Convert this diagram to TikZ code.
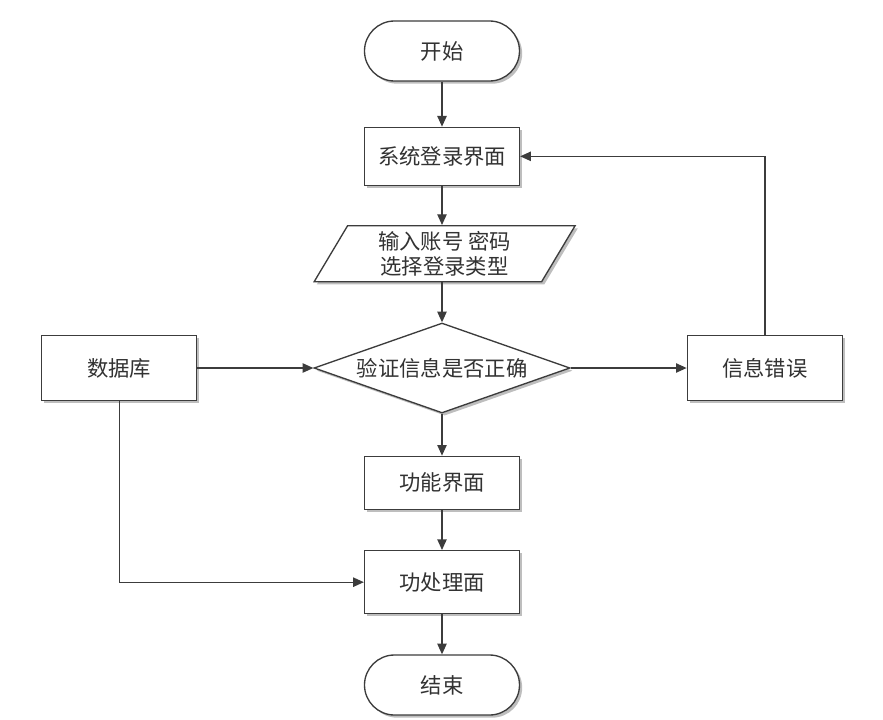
\documentclass[tikz,border=0pt]{standalone}
\usepackage{fontspec}
\newfontfamily\cjk{Noto Sans CJK SC}
\usetikzlibrary{shapes.geometric, arrows.meta, positioning, shadows}
\definecolor{linegray}{RGB}{60, 60, 60}
\definecolor{textgray}{RGB}{50, 50, 50}
\definecolor{shadowgray}{RGB}{190, 190, 190}
\tikzset{
    boxshadow/.style={drop shadow={shadow xshift=2pt, shadow yshift=-2pt, fill=shadowgray, opacity=1}},
    terminal/.style={rectangle, rounded corners=22.5pt, draw=linegray, fill=white, text=textgray, line width=1pt, minimum width=116.25pt, minimum height=45pt, align=center, boxshadow},
    process/.style={rectangle, draw=linegray, fill=white, text=textgray, line width=1pt, minimum width=116.25pt, align=center, boxshadow},
    decision/.style={diamond, draw=linegray, fill=white, text=textgray, line width=1pt, aspect=2.8, inner sep=0pt, minimum width=192pt, minimum height=67.5pt, align=center, boxshadow},
    io/.style={trapezium, trapezium left angle=64, trapezium right angle=116, trapezium stretches=true, draw=linegray, fill=white, text=textgray, line width=1pt, minimum width=196pt, minimum height=42pt, inner sep=1pt, align=center, boxshadow},
    arrow/.style={-{Triangle[length=8pt, width=7pt]}, linegray, line width=1pt}
}

\begin{document}
\begin{tikzpicture}[font=\cjk\fontsize{16}{19}\selectfont]
            \useasboundingbox (0,0) rectangle (662.25pt,-540pt);
            \node (start) [terminal] at (331.5pt,-38.25pt) {开始};
            \node (login) [process, minimum height=43.5pt, below=33.75pt of start] {系统登录界面};
            \node (input) [io, below=29.25pt of login, xshift=2pt] {输入账号 密码\\选择登录类型};
            \node (check) [decision, below=30pt of input, xshift=-2pt] {验证信息是否正确};
            \node (db) [process, minimum height=48.75pt, left=87pt of check] {数据库};
            \node (error) [process, minimum height=48.75pt, right=87pt of check] {信息错误};
            \node (func) [process, minimum height=39.75pt, below=31.5pt of check] {功能界面};
            \node (proc) [process, minimum height=47.25pt, below=30pt of func] {功处理面};
            \node (stop) [terminal, below=30pt of proc] {结束};

            \draw [arrow] (start) -- (login);
            \draw [arrow] (login) -- (login |- input.north);
            \draw [arrow] (login |- input.south) -- (check);
            \draw [arrow] (db) -- (check);
            \draw [arrow] (check) -- (error);
            \draw [arrow] (error.north) |- (login.east);
            \draw [arrow] (check) -- (func);
            \draw [arrow] (func) -- (proc);
            \draw [arrow] (db.south) |- (proc.west);
            \draw [arrow] (proc) -- (stop);
        \end{tikzpicture}
\end{document}
